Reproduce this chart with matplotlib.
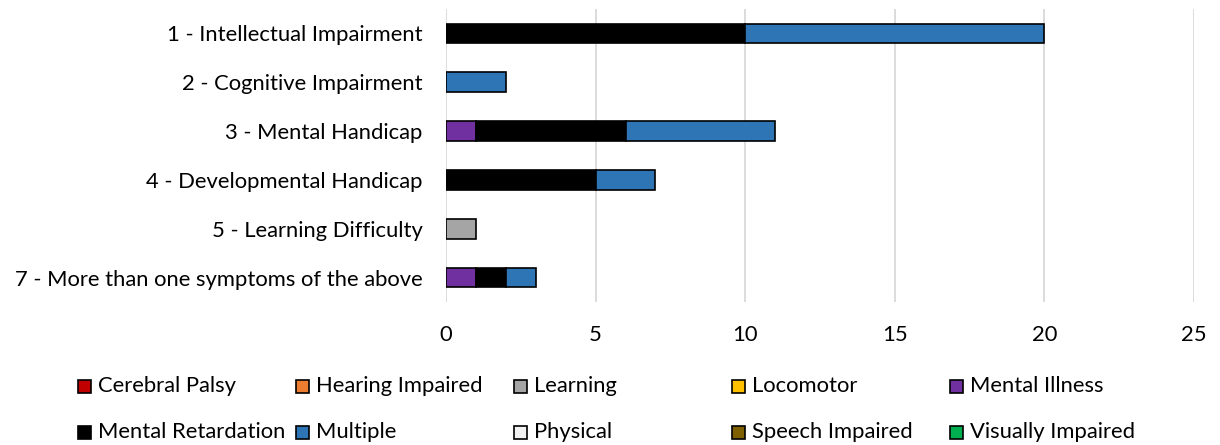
import matplotlib
matplotlib.use("Agg")
import matplotlib.pyplot as plt
from matplotlib.patches import Rectangle
import numpy as np

plt.rcParams['font.family'] = ['Lato', 'DejaVu Sans']

categories = ["1 - Intellectual Impairment", "2 - Cognitive Impairment", "3 - Mental Handicap",
              "4 - Developmental Handicap", "5 - Learning Difficulty",
              "7 - More than one symptoms of the above"]

series_names = ["Cerebral Palsy", "Hearing Impaired", "Learning", "Locomotor", "Mental Illness",
                "Mental Retardation", "Multiple", "Physical", "Speech Impaired", "Visually Impaired"]

cerebral_palsy = [0, 0, 0, 0, 0, 0]
hearing_impaired = [0, 0, 0, 0, 0, 0]
learning = [0, 0, 0, 0, 1, 0]
locomotor = [0, 0, 0, 0, 0, 0]
mental_illness = [0, 0, 1, 0, 0, 1]
mental_retardation = [10, 0, 5, 5, 0, 1]
multiple = [10, 2, 5, 2, 0, 1]
physical = [0, 0, 0, 0, 0, 0]
speech_impaired = [0, 0, 0, 0, 0, 0]
visually_impaired = [0, 0, 0, 0, 0, 0]

series_values = [cerebral_palsy, hearing_impaired, learning, locomotor, mental_illness,
                 mental_retardation, multiple, physical, speech_impaired, visually_impaired]

colors = ["#C00000", "#ED7D31", "#A5A5A5", "#FFC000", "#7030A0",
          "#000000", "#2E75B6", "#F2F2F2", "#7F6000", "#00B050"]

FS = 15.8
W, H = 1220, 445
fig = plt.figure(figsize=(W / 100, H / 100), dpi=100)
ax = fig.add_axes([446 / W, 1 - 302 / H, 748 / W, 293 / H])

y = np.arange(len(categories))
left = np.zeros(len(categories))
for name, vals, col in zip(series_names, series_values, colors):
    vals = np.array(vals, dtype=float)
    mask = vals > 0
    if mask.any():
        ax.barh(y[mask], vals[mask], left=left[mask], height=0.4, color=col,
                edgecolor="black", linewidth=1.2, zorder=3)
    left += vals

ax.set_ylim(len(categories) - 0.5, -0.5)
ax.set_xlim(0, 25)
ax.set_xticks(np.arange(0, 26, 5))
ax.set_yticks(y)
ax.set_yticklabels(categories)
ax.tick_params(axis="y", length=0, pad=17, labelsize=FS)
ax.tick_params(axis="x", length=0, pad=16.5, labelsize=FS)
ax.grid(axis="x", color="#D9D9D9", linewidth=1.3, zorder=0)
for s in ax.spines.values():
    s.set_visible(False)

# legend laid out like Excel: 5 equal columns, filled row by row
col_x = 78
col_w = 218
row_y = [386, 432]
box = 13
for i, (name, col) in enumerate(zip(series_names, colors)):
    r, c = divmod(i, 5)
    x0 = col_x + c * col_w
    y0 = row_y[r]
    fig.patches.append(Rectangle((x0 / W, 1 - (y0 + box / 2) / H), box / W, box / H,
                                 transform=fig.transFigure, facecolor=col,
                                 edgecolor="black", linewidth=1.2))
    fig.text((x0 + 20) / W, 1 - y0 / H, name, fontsize=FS, va="center", ha="left")

fig.savefig("out.png", dpi=100)
